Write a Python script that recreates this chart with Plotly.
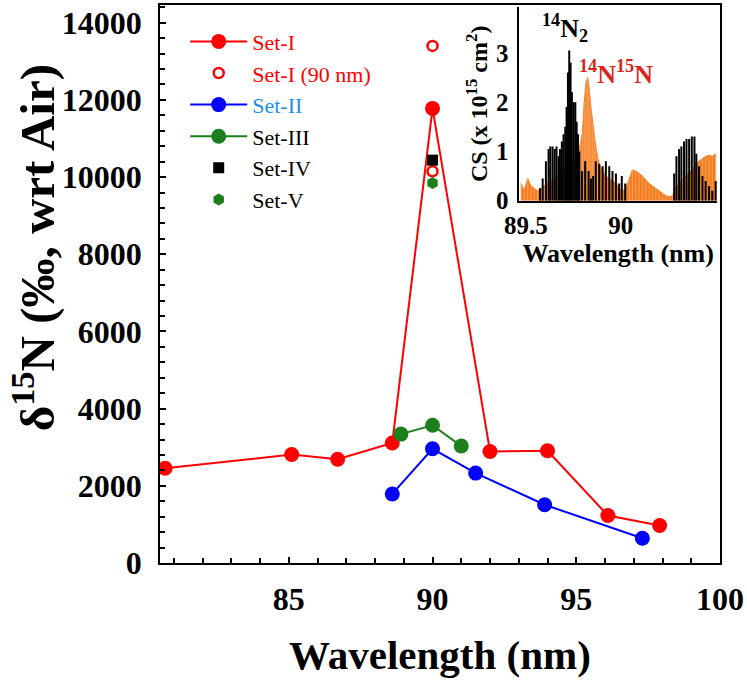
import plotly.graph_objects as go

# ---------------- main data ----------------
set1_x = [80.7, 85.1, 86.7, 88.6, 90.0, 92.0, 94.0, 96.1, 97.9]
set1_y = [2455, 2810, 2690, 3110, 11780, 2890, 2910, 1230, 970]
set1_90_x = [90.0, 90.0]
set1_90_y = [13400, 10150]
set2_x = [88.6, 90.0, 91.5, 93.9, 97.3]
set2_y = [1790, 2960, 2330, 1510, 640]
set3_x = [88.9, 90.0, 91.0]
set3_y = [3340, 3570, 3030]
set4_x = [90.0]
set4_y = [10440]
set5_x = [90.0]
set5_y = [9850]

x_ticks = [85, 90, 95, 100]
y_ticks = [0, 2000, 4000, 6000, 8000, 10000, 12000, 14000]

# ---------------- inset data (cross sections, x 1e-15 cm2) ----------------
n14n15_wl = [89.474, 89.491, 89.509, 89.526, 89.544, 89.561, 89.579, 89.596, 89.614,
             89.632, 89.649, 89.667, 89.684, 89.702, 89.719, 89.737, 89.754, 89.772,
             89.789, 89.798, 89.807, 89.816, 89.825, 89.833, 89.842, 89.851, 89.860,
             89.868, 89.877, 89.886, 89.904, 89.921, 89.939, 89.956, 89.974, 89.991,
             90.009, 90.026, 90.044, 90.061, 90.079, 90.096, 90.114, 90.132, 90.149,
             90.167, 90.184, 90.202, 90.219, 90.237, 90.254, 90.272, 90.289, 90.307,
             90.325, 90.342, 90.360, 90.377, 90.395, 90.412, 90.430, 90.447, 90.465,
             90.482, 90.500]
n14n15_cs = [0.35, 0.20, 0.45, 0.30, 0.25, 0.20, 0.25, 0.30, 0.35,
             0.40, 0.45, 0.50, 0.60, 0.70, 0.75, 0.75, 0.80, 0.90,
             1.20, 1.40, 2.00, 2.40, 2.50, 2.30, 1.90, 1.60, 1.40,
             1.10, 0.90, 0.75, 0.60, 0.50, 0.45, 0.40, 0.35, 0.25,
             0.20, 0.25, 0.45, 0.62, 0.60, 0.55, 0.50, 0.42, 0.35,
             0.30, 0.25, 0.20, 0.15, 0.10, 0.08, 0.10, 0.25, 0.35,
             0.45, 0.50, 0.55, 0.65, 0.75, 0.80, 0.85, 0.90, 0.92,
             0.90, 0.95]

n2_wl = [89.574, 89.588, 89.605, 89.619, 89.628, 89.640, 89.651, 89.661, 89.672,
         89.679, 89.689, 89.698, 89.707, 89.714, 89.721, 89.728, 89.735, 89.742,
         89.751, 89.760, 89.767, 89.774, 89.781, 89.795, 89.812, 89.830, 89.842,
         89.854, 89.868, 89.886, 89.904, 89.921, 89.939, 89.956, 89.974, 89.991,
         90.005, 90.023, 90.281, 90.293, 90.307, 90.319, 90.333, 90.346, 90.360,
         90.374, 90.388, 90.398, 90.412, 90.430, 90.447, 90.465, 90.482, 90.500]
n2_cs = [0.25, 0.45, 0.80, 1.05, 1.10, 1.10, 1.05, 1.10, 0.90,
         1.05, 1.20, 1.35, 1.50, 1.90, 2.60, 3.05, 2.80, 2.20,
         2.00, 2.00, 1.60, 1.35, 1.00, 0.60, 0.80, 0.60, 0.45,
         0.50, 0.80, 0.75, 0.70, 0.80, 0.70, 0.60, 0.55, 0.35,
         0.50, 0.35, 0.55, 0.90, 1.05, 1.10, 1.20, 1.25, 1.25,
         1.30, 1.30, 0.95, 0.70, 0.50, 0.40, 0.30, 0.20, 0.40]

FONT = "Liberation Serif, Times New Roman, serif"
RED = "#FF0000"
BLUE = "#0000FF"
GREEN = "#1B7F1B"
ORANGE = "#F57D20"

fig = go.Figure()

fig.add_trace(go.Scatter(x=set1_x, y=set1_y, mode="lines+markers",
                         name="<span style='color:#FF0000'>Set-I</span>",
                         line=dict(color=RED, width=2),
                         marker=dict(color=RED, size=15, symbol="circle")))
fig.add_trace(go.Scatter(x=set1_90_x, y=set1_90_y, mode="markers",
                         name="<span style='color:#FF0000'>Set-I (90 nm)</span>",
                         marker=dict(color=RED, size=10, symbol="circle-open",
                                     line=dict(width=2.5, color=RED))))
fig.add_trace(go.Scatter(x=set2_x, y=set2_y, mode="lines+markers",
                         name="<span style='color:#1E90E8'>Set-II</span>",
                         line=dict(color=BLUE, width=2),
                         marker=dict(color=BLUE, size=15, symbol="circle")))
fig.add_trace(go.Scatter(x=set3_x, y=set3_y, mode="lines+markers",
                         name="Set-III",
                         line=dict(color=GREEN, width=2),
                         marker=dict(color=GREEN, size=15, symbol="circle")))
fig.add_trace(go.Scatter(x=set4_x, y=set4_y, mode="markers", name="Set-IV",
                         marker=dict(color="black", size=11, symbol="square")))
fig.add_trace(go.Scatter(x=set5_x, y=set5_y, mode="markers", name="Set-V",
                         marker=dict(color=GREEN, size=12, symbol="hexagon")))

# inset: 14N15N (orange filled) and 14N2 (black sticks)
fig.add_trace(go.Scatter(x=n14n15_wl, y=n14n15_cs, mode="lines", fill="tozeroy",
                         line=dict(color=ORANGE, width=1),
                         fillcolor=ORANGE, showlegend=False,
                         xaxis="x2", yaxis="y2"))
ox, oy = [], []
for w, c in zip(n14n15_wl, n14n15_cs):
    ox += [w, w, None]
    oy += [0, c, None]
fig.add_trace(go.Scatter(x=ox, y=oy, mode="lines",
                         line=dict(color="#F9AC6C", width=0.8),
                         showlegend=False, xaxis="x2", yaxis="y2"))
sx, sy = [], []
for w, c in zip(n2_wl, n2_cs):
    sx += [w, w, None]
    sy += [0, c, None]
fig.add_trace(go.Scatter(x=sx, y=sy, mode="lines",
                         line=dict(color="black", width=2),
                         showlegend=False, xaxis="x2", yaxis="y2"))

tickfont = dict(family=FONT, size=32, color="black", weight="bold")

fig.update_layout(
    width=747, height=690,
    margin=dict(l=160, r=26, t=3, b=127),
    paper_bgcolor="white", plot_bgcolor="white",
    font=dict(family=FONT, color="black"),
    xaxis=dict(range=[80.52, 100], tickvals=x_ticks, ticktext=[str(v) for v in x_ticks],
               showgrid=False, zeroline=False, showline=True, mirror=True,
               linecolor="black", linewidth=1.5,
               ticks="inside", ticklen=6, tickcolor="black", tickwidth=1.5,
               minor=dict(dtick=1, tick0=0, ticks="inside", ticklen=5,
                          tickcolor="black", tickwidth=1.5),
               tickfont=tickfont, ticklabelstandoff=7),
    yaxis=dict(range=[0, 14460], tickvals=y_ticks, ticktext=[str(v) for v in y_ticks],
               showgrid=False, zeroline=False, showline=True, mirror=True,
               linecolor="black", linewidth=1.5,
               ticks="inside", ticklen=6, tickcolor="black", tickwidth=1.5,
               minor=dict(dtick=400, tick0=0, ticks="inside", ticklen=5,
                          tickcolor="black", tickwidth=1.5),
               tickfont=tickfont, ticklabelstandoff=10),
    xaxis2=dict(domain=[0.6417, 0.9947], anchor="y2", range=[89.465, 90.507],
                tickvals=[89.5, 90], ticktext=["89.5", "90"],
                showgrid=False, zeroline=False, showline=True, linecolor="black",
                linewidth=1.5, ticks="",
                tickfont=dict(family=FONT, size=25, color="black", weight="bold"),
                ticklabelstandoff=2,
                title=dict(text="Wavelength (nm)", standoff=0,
                           font=dict(family=FONT, size=26, color="black", weight="bold"))),
    yaxis2=dict(domain=[0.6493, 0.9964], anchor="x2", range=[0, 3.93],
                tickvals=[0, 1, 2, 3], ticktext=["0", "1", "2", "3"],
                showgrid=False, zeroline=False, showline=True, linecolor="black",
                linewidth=1.5, ticks="",
                tickfont=dict(family=FONT, size=25, color="black", weight="bold"),
                ticklabelstandoff=4,
                title=dict(text="CS (x 10<sup>15</sup> cm<sup>2</sup>)", standoff=2,
                           font=dict(family=FONT, size=24, color="black", weight="bold"))),
    legend=dict(x=0.045, y=0.972, xanchor="left", yanchor="top",
                bgcolor="rgba(0,0,0,0)", font=dict(family=FONT, size=22, color="black"),
                itemwidth=57, tracegroupgap=0),
    showlegend=True,
)

fig.add_annotation(text="δ<sup>15</sup>N (‰, wrt Air)", textangle=-90,
                   xref="paper", yref="paper", x=-0.224, y=0.565,
                   xanchor="center", yanchor="middle", showarrow=False,
                   font=dict(family=FONT, size=49, color="black", weight="bold"))
fig.add_annotation(text="Wavelength (nm)", xref="paper", yref="paper",
                   x=0.5, y=-0.165, xanchor="center", yanchor="middle", showarrow=False,
                   font=dict(family=FONT, size=41, color="black", weight="bold"))
fig.add_annotation(text="<sup>14</sup>N<sub>2</sub>", xref="x2", yref="y2",
                   x=89.707, y=3.50, showarrow=False,
                   font=dict(family=FONT, size=26, color="black", weight="bold"))
fig.add_annotation(text="<sup>14</sup>N<sup>15</sup>N", xref="x2", yref="y2",
                   x=89.975, y=2.61, showarrow=False,
                   font=dict(family=FONT, size=26, color="#D9261C", weight="bold"))

fig.write_html("out.html", config={"displayModeBar": False},
               post_script="document.body.style.margin='0px';")
